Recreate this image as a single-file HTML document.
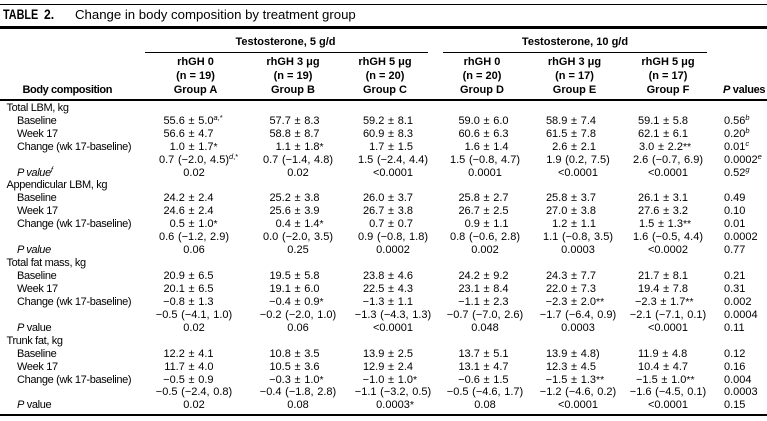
<!DOCTYPE html>
<html><head><meta charset="utf-8">
<style>
html,body{margin:0;padding:0}
body{width:767px;height:421px;position:relative;background:#fff;font-family:"Liberation Sans",sans-serif;color:#000;overflow:hidden}
.ln{position:absolute;left:0;width:767px;background:#000}
.t{position:absolute;font-size:11px;line-height:13px;height:13px;white-space:nowrap}
.b{font-weight:bold}
.l{letter-spacing:-0.35px}
.v{word-spacing:0.6px}
.r{text-align:right;width:100px}
.c{text-align:center;width:120px}
.k{position:relative}
.s{position:absolute;left:100%;top:0;white-space:nowrap;word-spacing:0}
.a{font-size:10.5px;position:relative;top:0}
.u{font-size:7.5px;position:relative;top:-3.5px;font-style:italic}
.row{position:absolute;left:0;width:767px;height:13px}
</style></head><body>

<div class="ln" style="top:4px;height:1px"></div>
<div class="ln" style="top:26px;height:3px"></div>
<div class="ln" style="top:99px;height:1.5px"></div>
<div class="ln" style="top:414px;height:1.6px"></div>
<div style="position:absolute;top:52px;left:145px;width:283px;height:1px;background:#000"></div>
<div style="position:absolute;top:52px;left:443px;width:264px;height:1px;background:#000"></div>

<div style="position:absolute;top:7px;left:3px;font-size:13.5px;line-height:16px;font-weight:bold;white-space:nowrap;transform:scaleX(0.8);transform-origin:0 0">TABLE</div>
<div style="position:absolute;top:7px;left:44px;font-size:13.5px;line-height:16px;font-weight:bold;white-space:nowrap;transform:scaleX(0.9);transform-origin:0 0">2.</div>
<div style="position:absolute;top:7px;left:75px;font-size:13.2px;line-height:16px;white-space:nowrap">Change in body composition by treatment group</div>

<!-- header -->
<div class="t b c" style="top:36px;left:225.5px">Testosterone, 5 g/d</div>
<div class="t b c" style="top:36px;left:515px">Testosterone, 10 g/d</div>

<div class="t b c" style="top:56px;left:135.5px">rhGH 0</div>
<div class="t b c" style="top:56px;left:233px">rhGH 3 μg</div>
<div class="t b c" style="top:56px;left:325px">rhGH 5 μg</div>
<div class="t b c" style="top:56px;left:422px">rhGH 0</div>
<div class="t b c" style="top:56px;left:514.5px">rhGH 3 μg</div>
<div class="t b c" style="top:56px;left:608px">rhGH 5 μg</div>

<div class="t b c" style="top:70px;left:135.5px">(n = 19)</div>
<div class="t b c" style="top:70px;left:233px">(n = 19)</div>
<div class="t b c" style="top:70px;left:325px">(n = 20)</div>
<div class="t b c" style="top:70px;left:422px">(n = 20)</div>
<div class="t b c" style="top:70px;left:514.5px">(n = 17)</div>
<div class="t b c" style="top:70px;left:608px">(n = 17)</div>

<div class="t b" style="top:84px;left:22.5px;letter-spacing:-0.4px">Body composition</div>
<div class="t b c" style="top:84px;left:135.5px">Group A</div>
<div class="t b c" style="top:84px;left:233px">Group B</div>
<div class="t b c" style="top:84px;left:325px">Group C</div>
<div class="t b c" style="top:84px;left:422px">Group D</div>
<div class="t b c" style="top:84px;left:514.5px">Group E</div>
<div class="t b c" style="top:84px;left:608px">Group F</div>
<div class="t b" style="top:84px;left:723px;letter-spacing:-0.3px"><i>P</i> values</div>

<!-- Section 1 -->
<div class="row" style="top:101.8px">
<div class="t l" style="left:6.5px">Total LBM, kg</div>
</div>
<div class="row" style="top:114.74px">
<div class="t l" style="left:17px">Baseline</div>
<div class="t v r" style="left:113.5px">55.6 ± 5.0<span class="s"><span class="u">a</span><span class="u" style="font-style:normal">,*</span></span></div>
<div class="t v r" style="left:219.5px">57.7 ± 8.3</div>
<div class="t v r" style="left:313px">59.2 ± 8.1</div>
<div class="t v r" style="left:408.5px">59.0 ± 6.0</div>
<div class="t v r" style="left:496px">58.9 ± 7.4</div>
<div class="t v" style="left:638px">59.1 ± 5.8</div>
<div class="t" style="left:724px">0.56<span class="u">b</span></div>
</div>
<div class="row" style="top:127.68px">
<div class="t l" style="left:17px">Week 17</div>
<div class="t v r" style="left:113.5px">56.6 ± 4.7</div>
<div class="t v r" style="left:219.5px">58.8 ± 8.7</div>
<div class="t v r" style="left:313px">60.9 ± 8.3</div>
<div class="t v r" style="left:408.5px">60.6 ± 6.3</div>
<div class="t v r" style="left:496px">61.5 ± 7.8</div>
<div class="t v" style="left:638px">62.1 ± 6.1</div>
<div class="t" style="left:724px">0.20<span class="u">b</span></div>
</div>
<div class="row" style="top:140.62px">
<div class="t l" style="left:17px">Change (wk 17-baseline)</div>
<div class="t v r" style="left:113.5px">1.0 ± 1.7<span class="s"><span class="a">*</span></span></div>
<div class="t v r" style="left:219.5px">1.1 ± 1.8<span class="s"><span class="a">*</span></span></div>
<div class="t v r" style="left:313px">1.7 ± 1.5</div>
<div class="t v r" style="left:408.5px">1.6 ± 1.4</div>
<div class="t v r" style="left:496px">2.6 ± 2.1</div>
<div class="t v" style="left:639px">3.0 ± 2.2<span class="a">**</span></div>
<div class="t" style="left:724px">0.01<span class="u">c</span></div>
</div>
<div class="row" style="top:153.56px">
<div class="t v c" style="left:134px"><span class="k">0.7 (−2.0, 4.5)<span class="s"><span class="u">d</span><span class="u" style="font-style:normal">,*</span></span></span></div>
<div class="t v c" style="left:238px">0.7 (−1.4, 4.8)</div>
<div class="t v c" style="left:333px">1.5 (−2.4, 4.4)</div>
<div class="t v c" style="left:425px">1.5 (−0.8, 4.7)</div>
<div class="t v c" style="left:518px">1.9 (0.2, 7.5)</div>
<div class="t v c" style="left:608px">2.6 (−0.7, 6.9)</div>
<div class="t" style="left:724px">0.0002<span class="u">e</span></div>
</div>
<div class="row" style="top:166.5px">
<div class="t l" style="left:17px"><i>P value</i><span class="u">f</span></div>
<div class="t c" style="left:134px">0.02</div>
<div class="t c" style="left:238px">0.02</div>
<div class="t c" style="left:333px">&lt;0.0001</div>
<div class="t c" style="left:425px">0.0001</div>
<div class="t c" style="left:518px">&lt;0.0001</div>
<div class="t c" style="left:608px">&lt;0.0001</div>
<div class="t" style="left:724px">0.52<span class="u">g</span></div>
</div>

<!-- Section 2 -->
<div class="row" style="top:179.44px">
<div class="t l" style="left:6.5px">Appendicular LBM, kg</div>
</div>
<div class="row" style="top:192.38px">
<div class="t l" style="left:17px">Baseline</div>
<div class="t v r" style="left:113.5px">24.2 ± 2.4</div>
<div class="t v r" style="left:219.5px">25.2 ± 3.8</div>
<div class="t v r" style="left:313px">26.0 ± 3.7</div>
<div class="t v r" style="left:408.5px">25.8 ± 2.7</div>
<div class="t v r" style="left:496px">25.8 ± 3.7</div>
<div class="t v" style="left:638px">26.1 ± 3.1</div>
<div class="t" style="left:724px">0.49</div>
</div>
<div class="row" style="top:205.32px">
<div class="t l" style="left:17px">Week 17</div>
<div class="t v r" style="left:113.5px">24.6 ± 2.4</div>
<div class="t v r" style="left:219.5px">25.6 ± 3.9</div>
<div class="t v r" style="left:313px">26.7 ± 3.8</div>
<div class="t v r" style="left:408.5px">26.7 ± 2.5</div>
<div class="t v r" style="left:496px">27.0 ± 3.8</div>
<div class="t v" style="left:638px">27.6 ± 3.2</div>
<div class="t" style="left:724px">0.10</div>
</div>
<div class="row" style="top:218.26px">
<div class="t l" style="left:17px">Change (wk 17-baseline)</div>
<div class="t v r" style="left:113.5px">0.5 ± 1.0<span class="s"><span class="a">*</span></span></div>
<div class="t v r" style="left:219.5px">0.4 ± 1.4<span class="s"><span class="a">*</span></span></div>
<div class="t v r" style="left:313px">0.7 ± 0.7</div>
<div class="t v r" style="left:408.5px">0.9 ± 1.1</div>
<div class="t v r" style="left:496px">1.2 ± 1.1</div>
<div class="t v" style="left:639px">1.5 ± 1.3<span class="a">**</span></div>
<div class="t" style="left:724px">0.01</div>
</div>
<div class="row" style="top:231.2px">
<div class="t v c" style="left:134px">0.6 (−1.2, 2.9)</div>
<div class="t v c" style="left:238px">0.0 (−2.0, 3.5)</div>
<div class="t v c" style="left:333px">0.9 (−0.8, 1.8)</div>
<div class="t v c" style="left:425px">0.8 (−0.6, 2.8)</div>
<div class="t v c" style="left:518px">1.1 (−0.8, 3.5)</div>
<div class="t v c" style="left:608px">1.6 (−0.5, 4.4)</div>
<div class="t" style="left:724px">0.0002</div>
</div>
<div class="row" style="top:244.14px">
<div class="t l" style="left:17px"><i>P value</i></div>
<div class="t c" style="left:134px">0.06</div>
<div class="t c" style="left:238px">0.25</div>
<div class="t c" style="left:333px">0.0002</div>
<div class="t c" style="left:425px">0.002</div>
<div class="t c" style="left:518px">0.0003</div>
<div class="t c" style="left:608px">&lt;0.0002</div>
<div class="t" style="left:724px">0.77</div>
</div>

<!-- Section 3 -->
<div class="row" style="top:257.08px">
<div class="t l" style="left:6.5px">Total fat mass, kg</div>
</div>
<div class="row" style="top:270.02px">
<div class="t l" style="left:17px">Baseline</div>
<div class="t v r" style="left:113.5px">20.9 ± 6.5</div>
<div class="t v r" style="left:219.5px">19.5 ± 5.8</div>
<div class="t v r" style="left:313px">23.8 ± 4.6</div>
<div class="t v r" style="left:408.5px">24.2 ± 9.2</div>
<div class="t v r" style="left:496px">24.3 ± 7.7</div>
<div class="t v" style="left:638px">21.7 ± 8.1</div>
<div class="t" style="left:724px">0.21</div>
</div>
<div class="row" style="top:282.96px">
<div class="t l" style="left:17px">Week 17</div>
<div class="t v r" style="left:113.5px">20.1 ± 6.5</div>
<div class="t v r" style="left:219.5px">19.1 ± 6.0</div>
<div class="t v r" style="left:313px">22.5 ± 4.3</div>
<div class="t v r" style="left:408.5px">23.1 ± 8.4</div>
<div class="t v r" style="left:496px">22.0 ± 7.3</div>
<div class="t v" style="left:638px">19.4 ± 7.8</div>
<div class="t" style="left:724px">0.31</div>
</div>
<div class="row" style="top:295.9px">
<div class="t l" style="left:17px">Change (wk 17-baseline)</div>
<div class="t v r" style="left:113.5px">−0.8 ± 1.3</div>
<div class="t v r" style="left:219.5px">−0.4 ± 0.9<span class="s"><span class="a">*</span></span></div>
<div class="t v r" style="left:313px">−1.3 ± 1.1</div>
<div class="t v r" style="left:408.5px">−1.1 ± 2.3</div>
<div class="t v r" style="left:496px">−2.3 ± 2.0<span class="s"><span class="a">**</span></span></div>
<div class="t v" style="left:635px">−2.3 ± 1.7<span class="a">**</span></div>
<div class="t" style="left:724px">0.002</div>
</div>
<div class="row" style="top:308.84px">
<div class="t v c" style="left:134px">−0.5 (−4.1, 1.0)</div>
<div class="t v c" style="left:238px">−0.2 (−2.0, 1.0)</div>
<div class="t v c" style="left:333px">−1.3 (−4.3, 1.3)</div>
<div class="t v c" style="left:425px">−0.7 (−7.0, 2.6)</div>
<div class="t v c" style="left:518px">−1.7 (−6.4, 0.9)</div>
<div class="t v c" style="left:608px">−2.1 (−7.1, 0.1)</div>
<div class="t" style="left:724px">0.0004</div>
</div>
<div class="row" style="top:321.78px">
<div class="t l" style="left:17px"><i>P</i> value</div>
<div class="t c" style="left:134px">0.02</div>
<div class="t c" style="left:238px">0.06</div>
<div class="t c" style="left:333px">&lt;0.0001</div>
<div class="t c" style="left:425px">0.048</div>
<div class="t c" style="left:518px">0.0003</div>
<div class="t c" style="left:608px">&lt;0.0001</div>
<div class="t" style="left:724px">0.11</div>
</div>

<!-- Section 4 -->
<div class="row" style="top:334.72px">
<div class="t l" style="left:6.5px">Trunk fat, kg</div>
</div>
<div class="row" style="top:347.66px">
<div class="t l" style="left:17px">Baseline</div>
<div class="t v r" style="left:113.5px">12.2 ± 4.1</div>
<div class="t v r" style="left:219.5px">10.8 ± 3.5</div>
<div class="t v r" style="left:313px">13.9 ± 2.5</div>
<div class="t v r" style="left:408.5px">13.7 ± 5.1</div>
<div class="t v r" style="left:496px">13.9 ± 4.8<span class="s">)</span></div>
<div class="t v" style="left:638px">11.9 ± 4.8</div>
<div class="t" style="left:724px">0.12</div>
</div>
<div class="row" style="top:360.6px">
<div class="t l" style="left:17px">Week 17</div>
<div class="t v r" style="left:113.5px">11.7 ± 4.0</div>
<div class="t v r" style="left:219.5px">10.5 ± 3.6</div>
<div class="t v r" style="left:313px">12.9 ± 2.4</div>
<div class="t v r" style="left:408.5px">13.1 ± 4.7</div>
<div class="t v r" style="left:496px">12.3 ± 4.5</div>
<div class="t v" style="left:638px">10.4 ± 4.7</div>
<div class="t" style="left:724px">0.16</div>
</div>
<div class="row" style="top:373.54px">
<div class="t l" style="left:17px">Change (wk 17-baseline)</div>
<div class="t v r" style="left:113.5px">−0.5 ± 0.9</div>
<div class="t v r" style="left:219.5px">−0.3 ± 1.0<span class="s"><span class="a">*</span></span></div>
<div class="t v r" style="left:313px">−1.0 ± 1.0<span class="s"><span class="a">*</span></span></div>
<div class="t v r" style="left:408.5px">−0.6 ± 1.5</div>
<div class="t v r" style="left:496px">−1.5 ± 1.3<span class="s"><span class="a">**</span></span></div>
<div class="t v" style="left:636px">−1.5 ± 1.0<span class="a">**</span></div>
<div class="t" style="left:724px">0.004</div>
</div>
<div class="row" style="top:386.48px">
<div class="t v c" style="left:134px">−0.5 (−2.4, 0.8)</div>
<div class="t v c" style="left:238px">−0.4 (−1.8, 2.8)</div>
<div class="t v c" style="left:333px">−1.1 (−3.2, 0.5)</div>
<div class="t v c" style="left:425px">−0.5 (−4.6, 1.7)</div>
<div class="t v c" style="left:518px">−1.2 (−4.6, 0.2)</div>
<div class="t v c" style="left:608px">−1.6 (−4.5, 0.1)</div>
<div class="t" style="left:724px">0.0003</div>
</div>
<div class="row" style="top:399.42px">
<div class="t l" style="left:17px"><i>P</i> value</div>
<div class="t c" style="left:134px">0.02</div>
<div class="t c" style="left:238px">0.08</div>
<div class="t c" style="left:333px"><span class="k">0.0003<span class="s"><span class="a">*</span></span></span></div>
<div class="t c" style="left:425px">0.08</div>
<div class="t c" style="left:518px">&lt;0.0001</div>
<div class="t c" style="left:608px">&lt;0.0001</div>
<div class="t" style="left:724px">0.15</div>
</div>

</body></html>
